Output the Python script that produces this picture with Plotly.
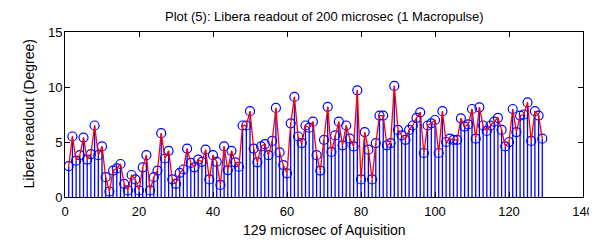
import plotly.graph_objects as go

x_idx = list(range(1, 130))
readout = [
    2.8, 5.5, 3.3, 3.8, 5.4, 3.4, 3.9, 6.5, 3.8, 4.6,
    1.8, 0.5, 2.4, 2.6, 3.0, 1.2, 0.6, 2.0, 1.6, 0.6,
    2.7, 3.8, 0.6, 1.8, 2.4, 5.8, 3.5, 4.2, 1.6, 1.2,
    2.2, 2.5, 4.4, 3.1, 2.7, 3.4, 3.2, 4.3, 1.6, 3.8,
    3.2, 1.1,
    4.6, 2.45, 4.2, 3.15, 2.75, 6.5, 6.5, 7.8, 4.4, 3.15,
    4.6, 4.8, 3.8, 5.1, 8.1, 4.05, 2.9, 2.15, 6.7, 9.1,
    5.5, 4.9,
    6.5, 6.3, 6.85, 3.8, 2.4, 5.2, 8.2, 4.1, 5.6, 6.85,
    4.7, 6.5, 5.3, 4.6, 9.7, 1.6, 5.9, 4.3, 1.6, 4.9,
    7.4, 7.4, 4.7, 4.9, 10.1,
    6.1, 5.6, 5.2, 6.1, 6.5, 7.2, 7.7, 4.0, 6.5, 6.7,
    7.0, 4.0, 7.8, 5.0, 5.3, 5.2, 5.2, 7.15,
    6.4, 6.6, 8.0, 5.3, 8.15, 6.5, 6.0, 6.5, 6.85, 7.2,
    6.1, 4.6, 5.0, 8.0, 5.9, 7.4, 7.5, 8.6, 5.1, 7.8,
    7.4, 5.3,
]

title_text = "Plot (5): Libera readout of 200 microsec (1 Macropulse)"
x_label = "129 microsec of Aquisition"
y_label = "Libera readout (Degree)"
x_ticks = [0, 20, 40, 60, 80, 100, 120, 140]
y_ticks = [0, 5, 10, 15]

fig = go.Figure()
# stems (blue) with open circle markers
fig.add_trace(go.Scatter(
    x=x_idx, y=readout, mode="markers",
    marker=dict(symbol="circle-open", size=9, color="#0000ff", line=dict(width=1.2, color="#0000ff")),
    error_y=dict(type="data", symmetric=False, array=[0] * len(readout),
                 arrayminus=readout, width=0, thickness=1.3, color="#0000ff"),
    showlegend=False, hoverinfo="skip",
))
# red connecting line
fig.add_trace(go.Scatter(
    x=x_idx, y=readout, mode="lines",
    line=dict(color="#ff0000", width=1.3),
    showlegend=False, hoverinfo="skip",
))

font_family = "Liberation Sans, Arial, sans-serif"
axis_common = dict(
    showline=True, linecolor="black", linewidth=1, mirror="allticks",
    ticks="inside", ticklen=5, tickwidth=1, tickcolor="black",
    showgrid=False, zeroline=False, automargin=False,
    tickfont=dict(family=font_family, size=13, color="black"),
)

# The page body has an 8px default margin, so the figure is sized to fit the window.
fig.update_layout(
    width=589, height=237,
    margin=dict(l=57, r=14, t=24, b=48),
    paper_bgcolor="white", plot_bgcolor="white",
    xaxis=dict(range=[0, 140], tickvals=x_ticks, ticklabelstandoff=2, **axis_common),
    yaxis=dict(range=[0, 15], tickvals=y_ticks, ticklabelstandoff=-1, **axis_common),
    annotations=[
        dict(text=title_text, xref="paper", yref="paper", x=0.5, y=1,
             yshift=16, xanchor="center", yanchor="middle", showarrow=False,
             font=dict(family=font_family, size=13, color="black")),
        dict(text=x_label, xref="paper", yref="paper", x=0.5, y=0,
             yshift=-33, xanchor="center", yanchor="middle", showarrow=False,
             font=dict(family=font_family, size=14, color="black")),
        dict(text=y_label, xref="paper", yref="paper", x=0, y=0.5,
             xshift=-37, xanchor="center", yanchor="middle", showarrow=False,
             textangle=-90,
             font=dict(family=font_family, size=14, color="black")),
    ],
)

fig.write_html("out.html")
